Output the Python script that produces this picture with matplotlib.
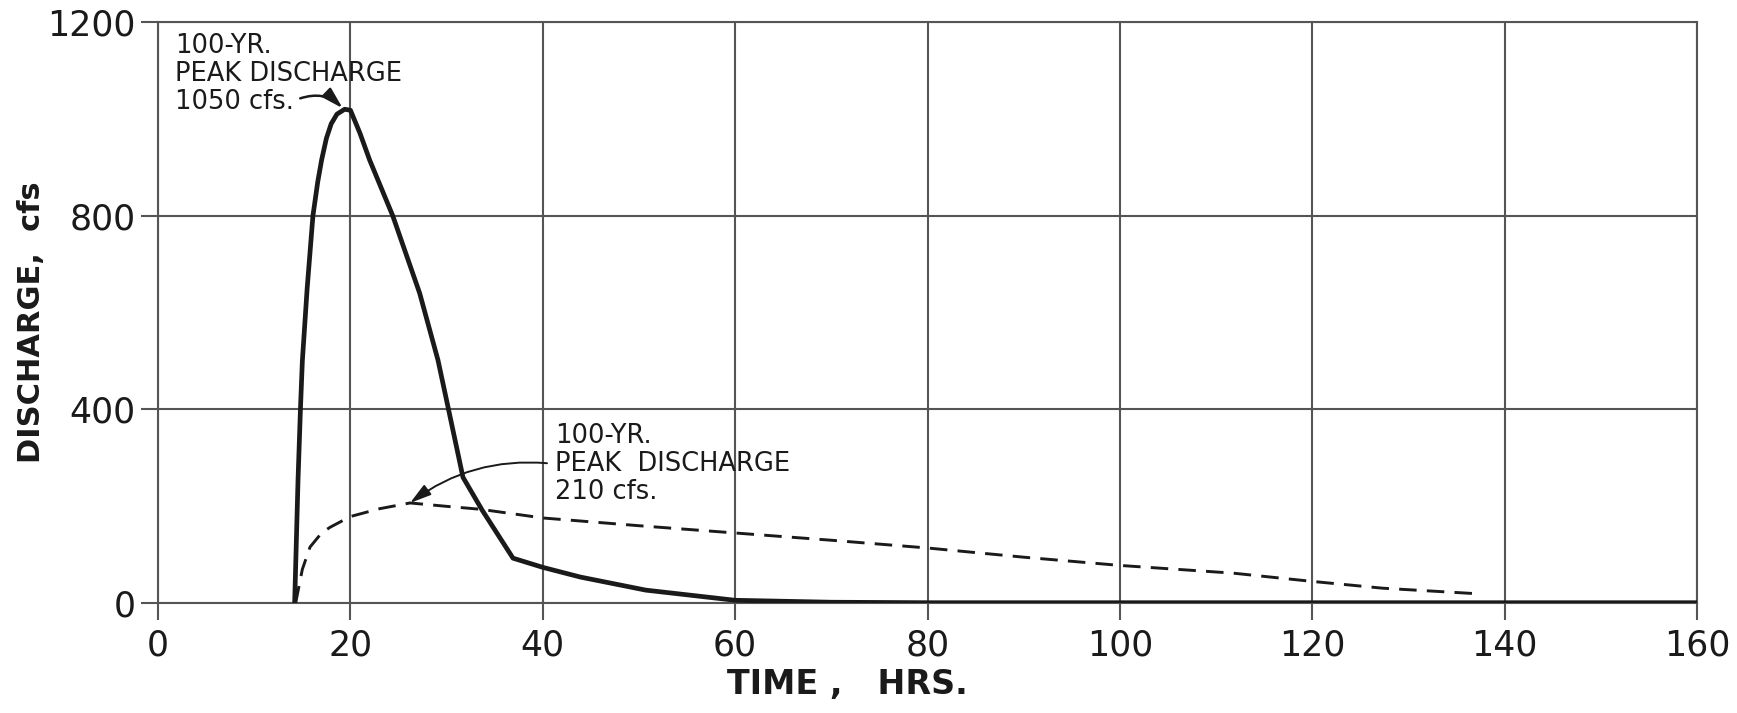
import matplotlib
matplotlib.use("Agg")
import matplotlib.pyplot as plt

# 100-yr hydrograph (solid)
t_solid = [14.2, 14.55, 14.8, 15.0, 15.5, 16.1, 16.6, 17.0, 17.5, 18.0, 18.6, 19.4, 20.0, 21.0, 22.0,
           24.4, 27.2, 29.1, 30.2, 31.7, 33.7, 36.9, 40.0, 43.9, 50.7, 60.0, 70.0, 80.0, 100.0, 160.0]
q_solid = [0, 254, 400, 500, 650, 800, 870, 915, 960, 990, 1010, 1020, 1018, 970, 915,
           800, 640, 502, 400, 260, 192, 93, 74, 54, 27, 6, 2, 1, 1, 1]

# 100-yr hydrograph (dashed)
t_dash = [14.3, 14.7, 15.0, 15.8, 17.0, 17.9, 20.0, 23.0, 26.2, 30.0, 33.5, 40.0, 50.0,
          60.0, 70.0, 80.0, 90.0, 100.0, 111.8, 116.6, 120.0, 127.3, 137.6]
q_dash = [0, 40, 70, 116, 145, 157, 179, 195, 207, 200, 194, 176, 160,
          145, 130, 114, 95, 78, 62, 52, 45, 31, 19]

x_ticks = [0, 20, 40, 60, 80, 100, 120, 140, 160]
y_ticks = [0, 400, 800, 1200]

note_big = "100-YR.\nPEAK DISCHARGE\n1050 cfs."
note_small = "100-YR.\nPEAK  DISCHARGE\n210 cfs."

grey = "#555555"
ink = "#1a1a1a"

fig = plt.figure(figsize=(17.37, 7.13), dpi=100)
ax = fig.add_axes([0.091, 0.154, 0.886, 0.815])

ax.plot(t_solid, q_solid, color=ink, lw=3.4, solid_joinstyle="round", zorder=3)
ax.plot(t_dash, q_dash, color=ink, lw=2.1, linestyle=(0, (6, 3.5)), zorder=3)

ax.set_xlim(0, 160)
ax.set_ylim(0, 1200)
ax.set_xticks(x_ticks)
ax.set_yticks(y_ticks)
ax.grid(True, color=grey, lw=1.5)
ax.set_axisbelow(True)
for s in ax.spines.values():
    s.set_color(grey)
    s.set_linewidth(1.5)
ax.tick_params(axis="both", length=12, width=1.5, color=grey, labelsize=25,
               labelcolor=ink)
ax.tick_params(axis="x", pad=6)
ax.tick_params(axis="y", pad=4)

ax.set_xlabel("TIME ,   HRS.", fontsize=24, fontweight="bold", color=ink)
ax.xaxis.set_label_coords(0.448, -0.112)
ax.set_ylabel("DISCHARGE,  cfs", fontsize=22, fontweight="bold", color=ink)
ax.yaxis.set_label_coords(-0.073, 0.484)

ax.annotate(note_big, xy=(19.2, 1022), xytext=(1.8, 1178),
            fontsize=18.5, color=ink, va="top", ha="left", linespacing=1.1,
            arrowprops=dict(arrowstyle="-|>,head_length=0.7,head_width=0.2",
                            color=ink, lw=1.8, shrinkA=0, shrinkB=0,
                            connectionstyle="arc3,rad=-0.3",
                            relpos=(0.55, 0.2)))

ax.annotate(note_small, xy=(26.2, 207), xytext=(41.3, 372),
            fontsize=18.5, color=ink, va="top", ha="left", linespacing=1.1,
            arrowprops=dict(arrowstyle="-|>,head_length=0.7,head_width=0.2",
                            color=ink, lw=1.4, shrinkA=4, shrinkB=0,
                            connectionstyle="arc3,rad=0.2",
                            relpos=(0.0, 0.5)))

fig.savefig("out.png", dpi=100, facecolor="white")
